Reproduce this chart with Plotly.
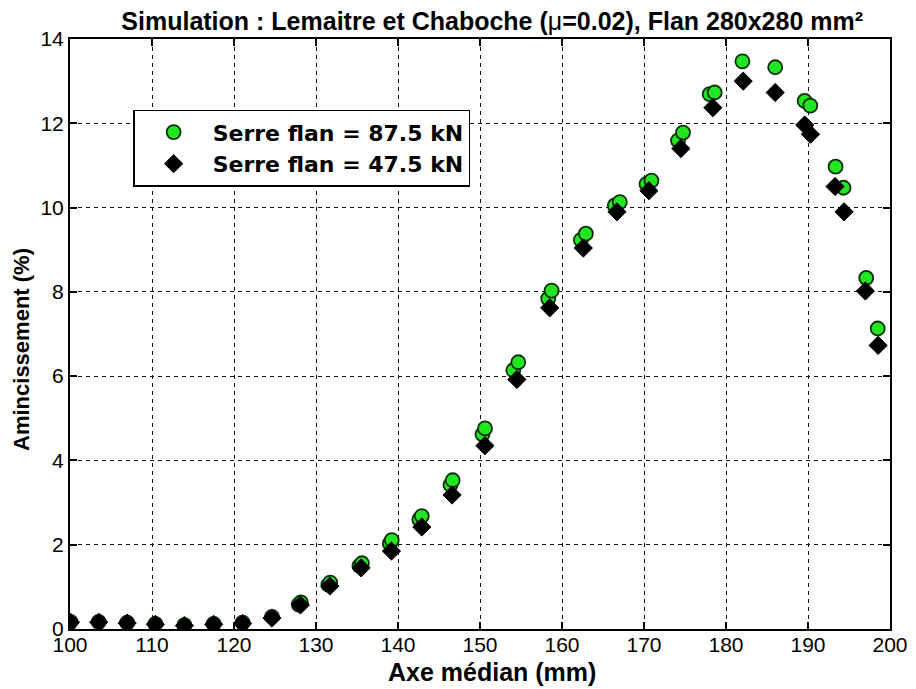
import plotly.graph_objects as go

# Serre flan = 87.5 kN (green circles)
x_875 = [100.06, 103.5, 106.97, 110.41, 113.95, 117.52, 121.05, 124.63,
         127.9, 128.16, 131.5, 131.73, 135.3, 135.6, 139.0, 139.24, 142.6, 142.9,
         146.4, 146.67, 150.3, 150.61, 154.06, 154.67, 158.32, 158.73,
         162.3, 162.91, 166.44, 167.05, 170.3, 170.91, 174.15, 174.76,
         178.01, 178.62, 182.0, 186.0, 189.59, 190.28, 193.36, 194.33, 197.1, 198.5]
y_875 = [0.17, 0.17, 0.15, 0.12, 0.09, 0.12, 0.15, 0.29,
         0.58, 0.63, 1.05, 1.10, 1.50, 1.56, 2.03, 2.11, 2.60, 2.68,
         3.42, 3.53, 4.62, 4.76, 6.14, 6.33, 7.84, 8.03,
         9.23, 9.38, 10.05, 10.13, 10.56, 10.64, 11.59, 11.78,
         12.69, 12.73, 13.47, 13.33, 12.53, 12.42, 10.97, 10.47, 8.33, 7.13]

# Serre flan = 47.5 kN (black diamonds)
x_475 = [100.06, 103.5, 106.97, 110.41, 113.95, 117.52, 121.05, 124.63,
         128.1, 131.7, 135.5, 139.2, 142.9, 146.6, 150.6, 154.5, 158.5,
         162.6, 166.7, 170.6, 174.5, 178.4, 182.1, 186.0, 189.6, 190.3,
         193.3, 194.4, 197.0, 198.55]
y_475 = [0.16, 0.16, 0.14, 0.11, 0.08, 0.11, 0.13, 0.26,
         0.57, 1.02, 1.45, 1.85, 2.42, 3.18, 4.35, 5.92, 7.62,
         9.04, 9.90, 10.40, 11.40, 12.37, 13.00, 12.73, 11.96, 11.74,
         10.50, 9.90, 8.02, 6.73]

x_ticks = [100, 110, 120, 130, 140, 150, 160, 170, 180, 190, 200]
y_ticks = [0, 2, 4, 6, 8, 10, 12, 14]

FONT = "Liberation Sans, Arial, sans-serif"
LEG_FONT = "DejaVu Sans, Liberation Sans, sans-serif"

fig = go.Figure()
fig.add_trace(go.Scatter(
    x=x_875, y=y_875, mode="markers", name="<b>Serre flan = 87.5 kN</b>",
    marker=dict(symbol="circle", size=14, color="#22e622",
                line=dict(color="#0a300a", width=1.8)),
))
fig.add_trace(go.Scatter(
    x=x_475, y=y_475, mode="markers", name="<b>Serre flan = 47.5 kN</b>",
    marker=dict(symbol="diamond", size=14, color="black",
                line=dict(color="black", width=1)),
))

axis_common = dict(
    showline=True, linecolor="black", linewidth=2, mirror="ticks",
    ticks="inside", ticklen=7, tickwidth=1.5, tickcolor="black",
    showgrid=True, gridcolor="#111111", gridwidth=1, griddash="4px,4px",
    zeroline=False, automargin=False,
    tickfont=dict(family=FONT, size=21, color="black"),
)

fig.update_xaxes(range=[100, 200], tickvals=x_ticks, ticklabelstandoff=-4, **axis_common)
fig.update_yaxes(range=[0, 14], tickvals=y_ticks, **axis_common)

fig.add_annotation(text="<b>Axe médian (mm)</b>", xref="paper", yref="paper",
                   x=0.5146, y=-0.0729, xanchor="center", yanchor="middle",
                   showarrow=False, font=dict(family=FONT, size=25, color="black"))
fig.add_annotation(text="<b>Amincissement (%)</b>", xref="paper", yref="paper",
                   x=-0.0585, y=0.473, xanchor="center", yanchor="middle",
                   textangle=-90, showarrow=False,
                   font=dict(family=FONT, size=22, color="black"))

fig.update_layout(
    width=900, height=681,
    margin=dict(l=62, r=18, t=31, b=60, autoexpand=False),
    paper_bgcolor="white", plot_bgcolor="white",
    title=dict(text="<b>Simulation : Lemaitre et Chaboche (</b>μ<b>=0.02), Flan 280x280 mm²</b>",
               x=0.538, xanchor="center", y=0.981, yanchor="middle",
               font=dict(family=FONT, size=25, color="black")),
    legend=dict(x=0.077, y=0.88, xanchor="left", yanchor="top",
                bgcolor="white", bordercolor="black", borderwidth=1.5,
                font=dict(family=LEG_FONT, size=22, color="black"),
                itemwidth=68, tracegroupgap=0),
    showlegend=True,
)

fig.write_html("out.html")
